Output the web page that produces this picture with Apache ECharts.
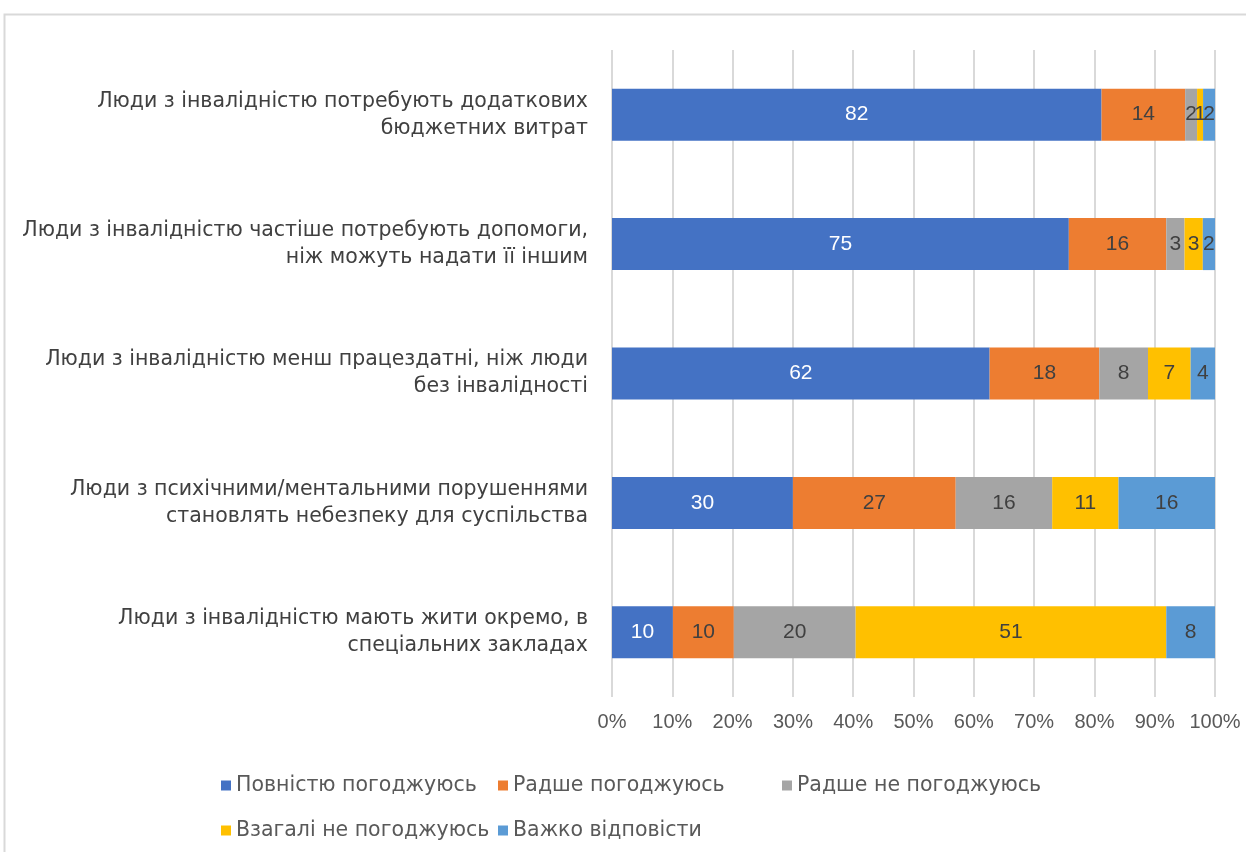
<!DOCTYPE html>
<html>
<head>
<meta charset="utf-8">
<script src="https://cdn.jsdelivr.net/npm/echarts@6/dist/echarts.min.js"></script>
<style>
  html, body { margin: 0; padding: 0; background: #fff; }
  #chart { width: 1246px; height: 852px; }
</style>
</head>
<body>
<div id="chart"></div>
<script>
// Chart data
var categories = [
  'Люди з інвалідністю потребують додаткових\nбюджетних витрат',
  'Люди з інвалідністю частіше потребують допомоги,\nніж можуть надати її іншим',
  'Люди з інвалідністю менш працездатні, ніж люди\nбез інвалідності',
  'Люди з психічними/ментальними порушеннями\nстановлять небезпеку для суспільства',
  'Люди з інвалідністю мають жити окремо, в\nспеціальних закладах'
];
var seriesNames = ['Повністю погоджуюсь', 'Радше погоджуюсь', 'Радше не погоджуюсь', 'Взагалі не погоджуюсь', 'Важко відповісти'];
var fullyAgree    = [82, 75, 62, 30, 10];
var ratherAgree   = [14, 16, 18, 27, 10];
var ratherDisagree = [2, 3, 8, 16, 20];
var fullyDisagree = [1, 3, 7, 11, 51];
var hardToSay     = [2, 2, 4, 16, 8];
var tickLabels = ['0%', '10%', '20%', '30%', '40%', '50%', '60%', '70%', '80%', '90%', '100%'];

var colors = ['#4472c4', '#ed7d31', '#a5a5a5', '#ffc000', '#5b9bd5'];
var raw = [fullyAgree, ratherAgree, ratherDisagree, fullyDisagree, hardToSay];

// 100% stacked: normalise each row by its total
var totals = categories.map(function (c, i) {
  return raw.reduce(function (s, arr) { return s + arr[i]; }, 0);
});

var textFont = 'DejaVu Sans';
var numFont = 'Liberation Sans';

var series = raw.map(function (arr, k) {
  return {
    name: seriesNames[k],
    type: 'bar',
    stack: 'total',
    barWidth: 52,
    itemStyle: { color: colors[k] },
    label: {
      show: true,
      position: 'inside',
      fontFamily: numFont,
      fontSize: 21,
      color: k === 0 ? '#ffffff' : '#404040',
      formatter: function (p) { return arr[p.dataIndex]; }
    },
    data: arr.map(function (v, i) { return v / totals[i] * 100; })
  };
});

function legendAt(k, left, top) {
  return {
    data: [seriesNames[k]],
    left: left, top: top,
    icon: 'rect', itemWidth: 10, itemHeight: 10, itemGap: 4,
    textStyle: { fontFamily: textFont, fontSize: 20.5, color: '#595959' },
    selectedMode: false
  };
}

var myChart = echarts.init(document.getElementById('chart'));

var option = {
  animation: false,
  graphic: [{
    type: 'rect',
    shape: { x: 4.5, y: 14.5, width: 1260, height: 860 },
    style: { fill: 'none', stroke: '#d9d9d9', lineWidth: 2 },
    silent: true
  }],
  grid: { left: 612, right: 31, top: 50, bottom: 155, containLabel: false },
  legend: [
    legendAt(0, 216, 770),
    legendAt(1, 493, 770),
    legendAt(2, 777, 770),
    legendAt(3, 216, 815),
    legendAt(4, 493, 815)
  ],
  xAxis: {
    type: 'value',
    min: 0, max: 100, interval: 10,
    axisLine: { show: false },
    axisTick: { show: false },
    splitLine: { lineStyle: { color: '#d9d9d9', width: 2 } },
    axisLabel: {
      margin: 15,
      fontFamily: numFont, fontSize: 20, color: '#595959',
      formatter: function (v) { return tickLabels[Math.round(v / 10)]; }
    }
  },
  yAxis: {
    type: 'category',
    inverse: true,
    data: categories,
    axisLine: { show: false },
    axisTick: { show: false },
    axisLabel: {
      margin: 24,
      fontFamily: textFont, fontSize: 20.5, color: '#404040',
      lineHeight: 27, align: 'right'
    }
  },
  series: series
};

myChart.setOption(option);
</script>
</body>
</html>
